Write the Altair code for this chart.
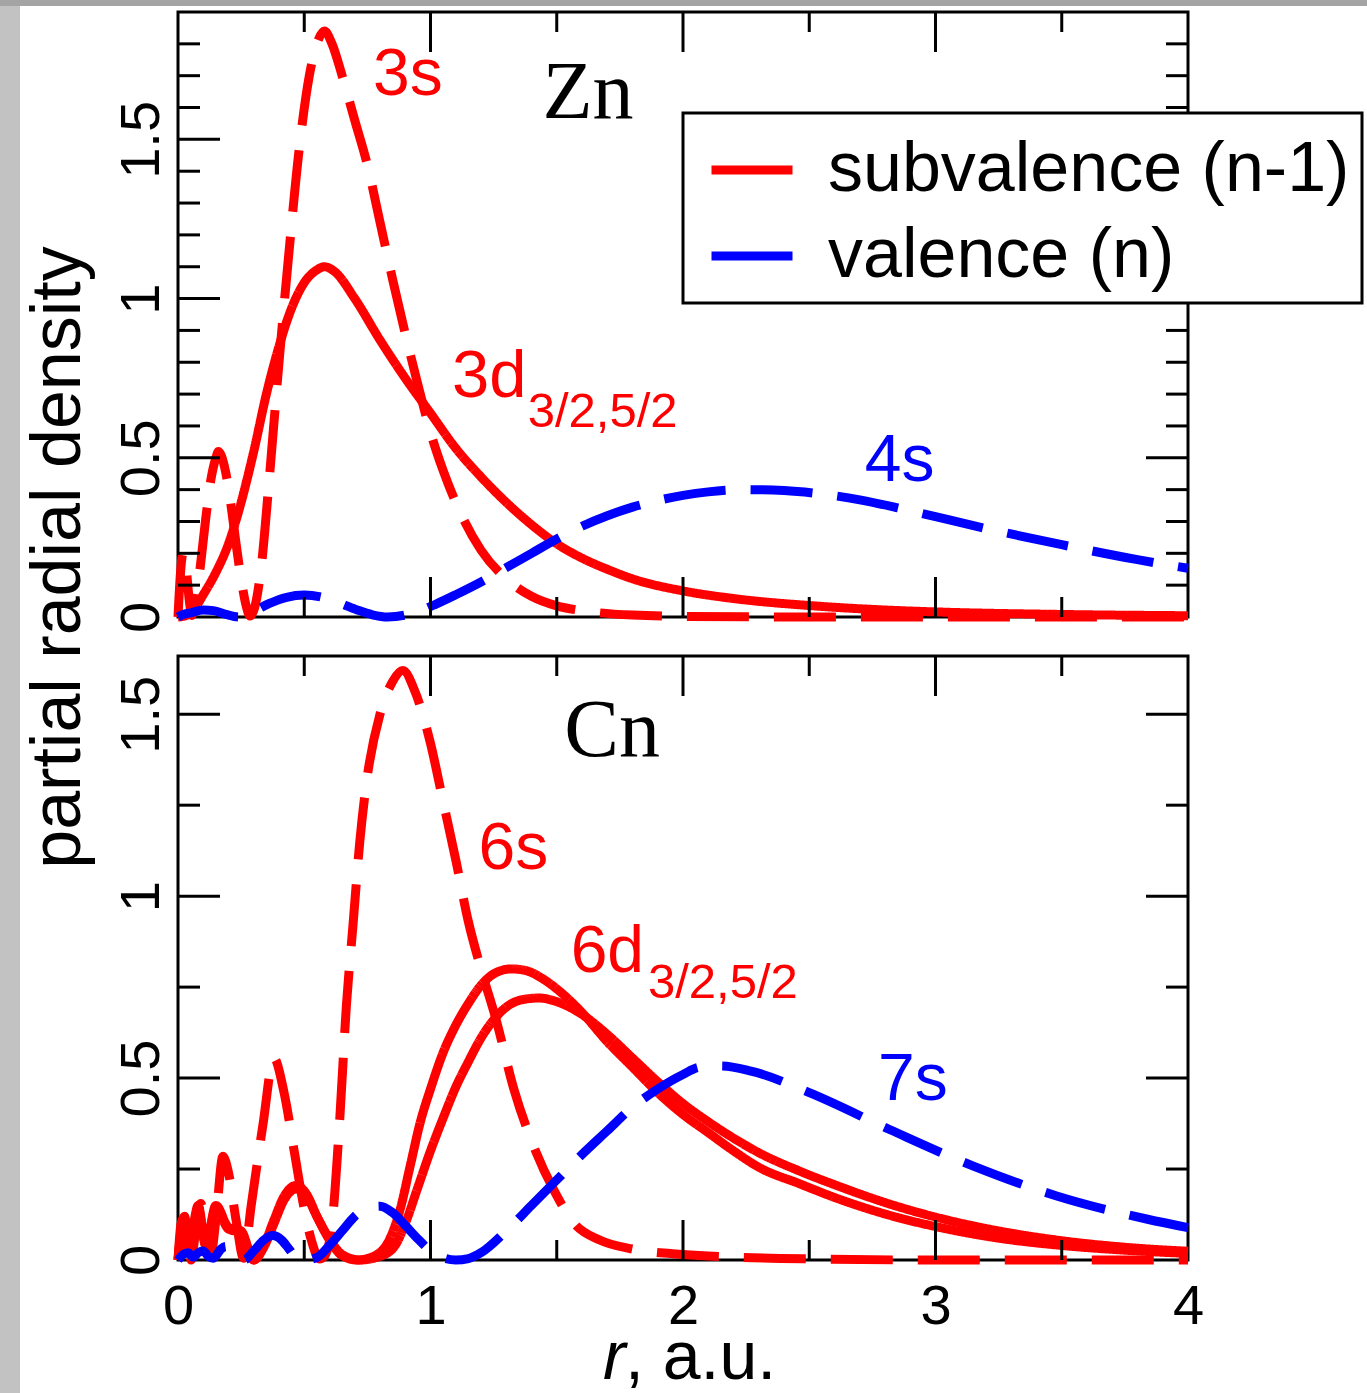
import altair as alt
import pandas as pd

# ---------------- data ----------------
SUB = "subvalence (n-1)"
VAL = "valence (n)"
RED = "#ff0000"
BLUE = "#0000ff"

# Zn panel
R_3S = [0, 0.01, 0.02, 0.03, 0.045, 0.055, 0.07, 0.09, 0.11, 0.13, 0.15, 0.16, 0.17, 0.19, 0.21, 0.23, 0.25,
        0.27, 0.285, 0.3, 0.33, 0.36, 0.4, 0.44, 0.48, 0.52, 0.55, 0.58, 0.61, 0.65, 0.7, 0.75, 0.8, 0.85, 0.9,
        0.95, 1.0, 1.05, 1.1, 1.2, 1.3, 1.4, 1.5, 1.6, 1.8, 2.0, 2.5, 3.0, 3.5, 4.0]
V_3S = [0, 0.14, 0.2, 0.17, 0.05, 0.005, 0.05, 0.17, 0.31, 0.43, 0.5, 0.52, 0.51, 0.45, 0.35, 0.23, 0.12,
        0.035, 0.003, 0.02, 0.16, 0.42, 0.8, 1.15, 1.47, 1.7, 1.8, 1.84, 1.8, 1.7, 1.56, 1.42, 1.24, 1.06, 0.89,
        0.73, 0.58, 0.46, 0.36, 0.21, 0.12, 0.065, 0.035, 0.02, 0.006, 0.002, 0.0, 0.0, 0.0, 0.0]

R_3D = [0, 0.03, 0.06, 0.1, 0.15, 0.2, 0.25, 0.3, 0.35, 0.4, 0.45, 0.5, 0.55, 0.58, 0.62, 0.7, 0.8, 0.9, 1.0,
        1.1, 1.2, 1.3, 1.4, 1.5, 1.6, 1.7, 1.8, 2.0, 2.2, 2.5, 2.8, 3.0, 3.5, 4.0]
V_3D = [0, 0.004, 0.02, 0.07, 0.14, 0.23, 0.36, 0.52, 0.7, 0.85, 0.97, 1.05, 1.09, 1.1, 1.085, 1.0, 0.87, 0.75,
        0.64, 0.53, 0.44, 0.36, 0.29, 0.23, 0.185, 0.15, 0.12, 0.082, 0.058, 0.036, 0.022, 0.016, 0.008, 0.004]

R_4S = [0, 0.02, 0.05, 0.1, 0.14, 0.19, 0.24, 0.3, 0.36, 0.43, 0.5, 0.57, 0.64, 0.71, 0.77, 0.83, 0.9, 0.96,
        1.02, 1.1, 1.2, 1.3, 1.4, 1.5, 1.6, 1.7, 1.8, 1.9, 2.0, 2.1, 2.25, 2.4, 2.55, 2.7, 2.85, 3.0, 3.2, 3.5,
        3.8, 4.0]
V_4S = [0, 0.008, 0.013, 0.022, 0.02, 0.008, 0.0, 0.018, 0.042, 0.062, 0.069, 0.062, 0.044, 0.022, 0.007, 0.0,
        0.006, 0.02, 0.04, 0.07, 0.11, 0.155, 0.2, 0.245, 0.285, 0.318, 0.345, 0.366, 0.382, 0.393, 0.4, 0.397,
        0.386, 0.368, 0.343, 0.315, 0.278, 0.227, 0.18, 0.153]

# Cn panel
R_6S = [0, 0.012, 0.026, 0.04, 0.052, 0.07, 0.09, 0.11, 0.13, 0.15, 0.178, 0.2, 0.23, 0.26, 0.29, 0.336, 0.38,
        0.42, 0.46, 0.5, 0.53, 0.56, 0.58, 0.61, 0.64, 0.667, 0.693, 0.72, 0.75, 0.8, 0.85, 0.89, 0.94, 1.0,
        1.05, 1.1, 1.15, 1.2, 1.26, 1.33, 1.41, 1.49, 1.57, 1.67, 1.8, 2.0, 2.2, 2.5, 3.0, 3.5, 4.0]
V_6S = [0, 0.1, 0.12, 0.05, 0.0, 0.08, 0.155, 0.09, 0.015, 0.11, 0.285, 0.24, 0.11, 0.005, 0.15, 0.37, 0.555,
        0.46, 0.3, 0.14, 0.05, 0.003, 0.01, 0.1, 0.38, 0.7, 0.92, 1.15, 1.33, 1.5, 1.59, 1.62, 1.56, 1.42,
        1.26, 1.1, 0.93, 0.8, 0.66, 0.47, 0.31, 0.19, 0.1, 0.055, 0.03, 0.015, 0.008, 0.003, 0.0, 0.0, 0.0]

R_6D3 = [0, 0.02, 0.04, 0.08, 0.11, 0.15, 0.2, 0.25, 0.3, 0.34, 0.38, 0.42, 0.467, 0.51, 0.55, 0.6, 0.65, 0.71,
         0.78, 0.84, 0.88, 0.92, 0.96, 1.0, 1.05, 1.1, 1.15, 1.2, 1.26, 1.32, 1.38, 1.44, 1.5, 1.6, 1.7, 1.8,
         1.9, 2.0, 2.1, 2.2, 2.3, 2.46, 2.6, 2.86, 3.0, 3.25, 3.5, 3.75, 4.0]
V_6D3 = [0, 0.1, 0.02, 0.15, 0.04, 0.15, 0.09, 0.08, 0.0, 0.04, 0.11, 0.175, 0.205, 0.18, 0.12, 0.055, 0.012,
         0.0, 0.012, 0.06, 0.14, 0.26, 0.38, 0.47, 0.57, 0.645, 0.705, 0.755, 0.79, 0.8, 0.795, 0.775, 0.745,
         0.68, 0.6, 0.53, 0.46, 0.4, 0.35, 0.3, 0.255, 0.21, 0.172, 0.115, 0.092, 0.06, 0.04, 0.027, 0.018]

R_6D5 = [0, 0.02, 0.04, 0.08, 0.11, 0.15, 0.2, 0.25, 0.3, 0.34, 0.38, 0.42, 0.467, 0.51, 0.55, 0.6, 0.65, 0.72,
         0.8, 0.86, 0.9, 0.95, 1.0, 1.05, 1.1, 1.15, 1.2, 1.25, 1.3, 1.36, 1.43, 1.5, 1.6, 1.7, 1.8, 1.9, 2.0,
         2.1, 2.2, 2.3, 2.46, 2.6, 2.86, 3.0, 3.25, 3.5, 3.75, 4.0]
V_6D5 = [0, 0.09, 0.02, 0.14, 0.04, 0.14, 0.085, 0.075, 0.0, 0.035, 0.1, 0.165, 0.195, 0.175, 0.12, 0.058, 0.015,
         0.0, 0.01, 0.04, 0.1, 0.2, 0.3, 0.39, 0.475, 0.545, 0.61, 0.66, 0.695, 0.715, 0.72, 0.71, 0.675, 0.62,
         0.555, 0.49, 0.43, 0.38, 0.335, 0.295, 0.245, 0.207, 0.145, 0.118, 0.08, 0.053, 0.035, 0.024]

R_7S = [0, 0.02, 0.04, 0.06, 0.08, 0.1, 0.12, 0.14, 0.17, 0.19, 0.22, 0.26, 0.3, 0.34, 0.375, 0.41, 0.44, 0.47,
        0.5, 0.55, 0.6, 0.65, 0.7, 0.75, 0.8, 0.85, 0.9, 0.95, 1.0, 1.05, 1.1, 1.15, 1.2, 1.3, 1.4, 1.5, 1.6,
        1.7, 1.8, 1.9, 2.0, 2.067, 2.15, 2.265, 2.5, 2.82, 3.15, 3.48, 3.84, 4.0]
V_7S = [0, 0.015, 0.02, 0.008, 0.02, 0.025, 0.01, 0.005, 0.03, 0.037, 0.02, 0.0, 0.025, 0.055, 0.067, 0.055,
        0.03, 0.005, 0.0, 0.007, 0.04, 0.08, 0.12, 0.143, 0.148, 0.13, 0.095, 0.058, 0.025, 0.006, 0.0, 0.004,
        0.02, 0.08, 0.15, 0.22, 0.29, 0.355, 0.42, 0.47, 0.51, 0.53, 0.533, 0.52, 0.46, 0.358, 0.258, 0.176,
        0.112, 0.089]

# axis ticks
X_LABELS = [0, 1, 2, 3, 4]
Y_LABELS = [0, 0.5, 1, 1.5]
X_MAJOR = [1, 2, 3]
X_MINOR = [0.5, 1.5, 2.5, 3.5]
Y_MAJOR = [0.5, 1.0, 1.5]
Y_MINOR_TOP = [0.1, 0.2, 0.3, 0.4, 0.6, 0.7, 0.8, 0.9, 1.1, 1.2, 1.3, 1.4, 1.6, 1.7, 1.8]
Y_MINOR_BOT = [0.25, 0.75, 1.25]

# annotations: text, r, v, colour, size, family, align
ANN_TOP = [
    ("3s", 0.772, 1.639, RED, 66, "Liberation Sans", "left"),
    ("Zn", 1.624, 1.567, "black", 82, "Liberation Serif", "center"),
    ("3d", 1.085, 0.69, RED, 67, "Liberation Sans", "left"),
    ("3/2,5/2", 1.385, 0.597, RED, 49, "Liberation Sans", "left"),
    ("4s", 2.72, 0.427, BLUE, 66, "Liberation Sans", "left"),
]
ANN_BOT = [
    ("Cn", 1.719, 1.385, "black", 82, "Liberation Serif", "center"),
    ("6s", 1.19, 1.074, RED, 66, "Liberation Sans", "left"),
    ("6d", 1.555, 0.791, RED, 66, "Liberation Sans", "left"),
    ("3/2,5/2", 1.861, 0.72, RED, 49, "Liberation Sans", "left"),
    ("7s", 2.772, 0.44, BLUE, 66, "Liberation Sans", "left"),
]

# ---------------- layout ----------------
W = 1010
H_TOP = 605
H_BOT = 604
GAP = 39
FONT = "Liberation Sans"
LW = 9
X_SCALE = alt.Scale(domain=[0, 4], nice=False, zero=False)
Y_TOP = alt.Scale(domain=[0, 1.9], nice=False, zero=False)
Y_BOT = alt.Scale(domain=[0, 1.66], nice=False, zero=False)


def curve(name, shell, style, r, v):
    return pd.DataFrame({"r": r, "v": v, "curve": name, "shell": shell, "style": style})


zn = pd.concat([
    curve("3s", SUB, "dashed", R_3S, V_3S),
    curve("3d", SUB, "solid", R_3D, V_3D),
    curve("4s", VAL, "dashed", R_4S, V_4S),
], ignore_index=True)
cn = pd.concat([
    curve("6s", SUB, "dashed", R_6S, V_6S),
    curve("6d32", SUB, "solid", R_6D3, V_6D3),
    curve("6d52", SUB, "solid", R_6D5, V_6D5),
    curve("7s", VAL, "dashed", R_7S, V_7S),
], ignore_index=True)


def y_axis(title=None):
    kw = dict(values=Y_LABELS, format="~g", labelAngle=270, labelAlign="center", labelBaseline="bottom",
              labelFontSize=56, labelFont=FONT, labelColor="black", labelPadding=8, ticks=False, tickSize=0,
              domain=False, grid=False, labelFlush=False, labelOverlap=False)
    if title:
        kw.update(title=title, titleFontSize=70, titleFont=FONT, titleFontWeight="normal", titleColor="black",
                  titleAngle=270, titleX=-120, titleY=545, titleAlign="center", titleBaseline="middle")
    else:
        kw.update(title=None)
    return alt.Axis(**kw)


X_AXIS_TOP = alt.Axis(values=X_LABELS, labels=False, ticks=False, tickSize=0, domain=False, grid=False,
                      title=None)
X_AXIS_BOT = alt.Axis(values=X_LABELS, format="~g", labelFontSize=56, labelFont=FONT, labelColor="black",
                      labelPadding=19, ticks=False, tickSize=0, domain=False, grid=False, labelFlush=False,
                      labelOverlap=False, title=None)
Y_AXIS_TOP = y_axis("partial radial density")
Y_AXIS_BOT = y_axis()


def lines(df, y_scale, xax, yax, legend):
    return alt.Chart(df).mark_line(strokeWidth=LW, interpolate="monotone").encode(
        x=alt.X("r:Q", scale=X_SCALE, axis=xax),
        y=alt.Y("v:Q", scale=y_scale, axis=yax),
        color=alt.Color("shell:N", scale=alt.Scale(domain=[SUB, VAL], range=[RED, BLUE]), legend=legend),
        strokeDash=alt.StrokeDash("style:N", scale=alt.Scale(domain=["solid", "dashed"],
                                                             range=[[1, 0], [62, 25]]), legend=None),
        detail="curve:N",
    )


def tick_layers(y_scale, h, y_minor, xax, yax):
    out = []
    for vals, length in ((Y_MAJOR, 42), (y_minor, 22)):
        df = pd.DataFrame({"v": vals})
        base = alt.Chart(df).mark_rule(color="black", strokeWidth=3)
        out.append(base.encode(y=alt.Y("v:Q", scale=y_scale, axis=yax), x=alt.value(0), x2=alt.value(length)))
        out.append(base.encode(y=alt.Y("v:Q", scale=y_scale, axis=yax), x=alt.value(W), x2=alt.value(W - length)))
    for vals, length in ((X_MAJOR, 40), (X_MINOR, 20)):
        df = pd.DataFrame({"r": vals})
        base = alt.Chart(df).mark_rule(color="black", strokeWidth=3)
        out.append(base.encode(x=alt.X("r:Q", scale=X_SCALE, axis=xax), y=alt.value(h), y2=alt.value(h - length)))
        out.append(base.encode(x=alt.X("r:Q", scale=X_SCALE, axis=xax), y=alt.value(0), y2=alt.value(length)))
    return out


def text_layers(anns, y_scale, xax, yax):
    out = []
    for t, r, v, col, size, fam, align in anns:
        df = pd.DataFrame({"r": [r], "v": [v], "t": [t]})
        out.append(alt.Chart(df).mark_text(font=fam, fontSize=size, color=col, align=align,
                                           baseline="alphabetic").encode(
            x=alt.X("r:Q", scale=X_SCALE, axis=xax),
            y=alt.Y("v:Q", scale=y_scale, axis=yax),
            text="t:N"))
    return out


one = pd.DataFrame({"k": [0]})
frame_left = alt.Chart(one).mark_rect(color="#c2c2c2").encode(
    x=alt.value(-178), x2=alt.value(-158), y=alt.value(-12), y2=alt.value(1381))
frame_top = alt.Chart(one).mark_rect(color="#a4a4a4").encode(
    x=alt.value(-178), x2=alt.value(1189), y=alt.value(-12), y2=alt.value(-6))

legend = alt.Legend(title=None, orient="none", legendX=505, legendY=101, symbolType="stroke",
                    symbolSize=6561, symbolStrokeWidth=9, labelFontSize=70, labelFont=FONT, labelColor="black",
                    labelLimit=2000, padding=12, rowPadding=6, labelOffset=31, symbolOffset=12,
                    fillColor="white", strokeColor="black")

top = alt.layer(
    frame_left, frame_top,
    lines(zn, Y_TOP, X_AXIS_TOP, Y_AXIS_TOP, legend),
    *tick_layers(Y_TOP, H_TOP, Y_MINOR_TOP, X_AXIS_TOP, Y_AXIS_TOP),
    *text_layers(ANN_TOP, Y_TOP, X_AXIS_TOP, Y_AXIS_TOP),
).properties(width=W, height=H_TOP)

xt = pd.DataFrame({"a": ["r"], "b": [", a.u."]})
xtitle_r = alt.Chart(xt).mark_text(font=FONT, fontSize=68, fontStyle="italic", color="black", align="left",
                                   baseline="alphabetic").encode(x=alt.value(425), y=alt.value(723), text="a:N")
xtitle_b = alt.Chart(xt).mark_text(font=FONT, fontSize=68, color="black", align="left",
                                   baseline="alphabetic").encode(x=alt.value(447), y=alt.value(723), text="b:N")

bottom = alt.layer(
    lines(cn, Y_BOT, X_AXIS_BOT, Y_AXIS_BOT, None),
    *tick_layers(Y_BOT, H_BOT, Y_MINOR_BOT, X_AXIS_BOT, Y_AXIS_BOT),
    *text_layers(ANN_BOT, Y_BOT, X_AXIS_BOT, Y_AXIS_BOT),
    xtitle_r, xtitle_b,
).properties(width=W, height=H_BOT)

# fixed 1367x1393 canvas with the plot origin at (178, 12); with autosize "none" the
# concat view reports the panel width and zero height, so padding supplies the rest
PAD_L, PAD_T = 178, 12
PAD_R = 1367 - PAD_L - W
PAD_B = 1393 - PAD_T

chart = alt.vconcat(top, bottom, spacing=GAP, bounds="flush").resolve_legend(
    color="independent"
).properties(
    autosize=alt.AutoSizeParams(type="none"),
    padding={"left": PAD_L, "top": PAD_T, "right": PAD_R, "bottom": PAD_B}
).configure_view(
    stroke="black", strokeWidth=3
).configure_legend(
    strokeWidth=3
)

chart.save("out.html", embed_options={"renderer": "svg", "actions": False})
